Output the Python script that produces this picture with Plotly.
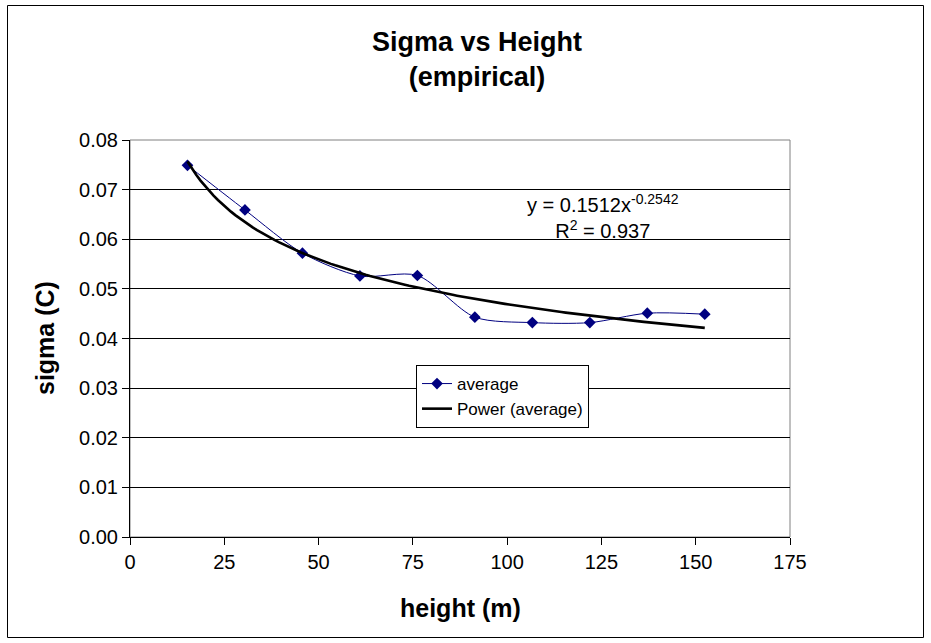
import numpy as np
import plotly.graph_objects as go

# ---- data ----
height_m = [15.24, 30.48, 45.72, 60.96, 76.2, 91.44, 106.68, 121.92, 137.16, 152.4]
sigma_avg = [0.0749, 0.0659, 0.0572, 0.0526, 0.0527, 0.0443, 0.0432, 0.0432, 0.0451, 0.0449]
trend_a = 0.1512
trend_b = -0.2542
r_squared = 0.937
x_ticks = [0, 25, 50, 75, 100, 125, 150, 175]
y_ticks = [0.0, 0.01, 0.02, 0.03, 0.04, 0.05, 0.06, 0.07, 0.08]

# power trendline (Excel "Power (average)") from the displayed coefficients
trend_x = np.linspace(height_m[0], height_m[-1], 120)
trend_y = trend_a * trend_x ** trend_b

FONT = "Arial, 'Liberation Sans', Helvetica, sans-serif"

fig = go.Figure()
fig.add_trace(go.Scatter(
    x=height_m, y=sigma_avg, name="average", mode="lines+markers",
    line=dict(color="#000080", width=1, shape="spline", smoothing=0.8),
    marker=dict(symbol="diamond", size=9, color="#000080"),
))
fig.add_trace(go.Scatter(
    x=trend_x, y=trend_y, name="Power (average)", mode="lines",
    line=dict(color="#000000", width=2.6),
))

W, H = 931, 643
L, R, T, B = 130, 790, 140, 537

def px_x(p):
    return (p - L) / (R - L)

def px_y(p):
    return (B - p) / (B - T)

fig.update_layout(
    width=W, height=H,
    margin=dict(l=L, r=W - R, t=T, b=H - B, pad=0),
    paper_bgcolor="white", plot_bgcolor="white",
    font=dict(family=FONT, color="black", size=20),
    showlegend=True,
    legend=dict(
        x=px_x(416), y=px_y(365), xanchor="left", yanchor="top",
        bgcolor="white", bordercolor="black", borderwidth=1,
        font=dict(size=17, family=FONT, color="black"),
        tracegroupgap=0, itemwidth=30,
    ),
    xaxis=dict(
        range=[0, 175], tickvals=x_ticks, ticktext=[str(v) for v in x_ticks],
        showgrid=False, zeroline=False,
        showline=True, linecolor="black", linewidth=1,
        ticks="outside", ticklen=7, tickcolor="black", tickwidth=1,
        tickfont=dict(size=20, family=FONT, color="black"),
    ),
    yaxis=dict(
        range=[0, 0.08], tickvals=y_ticks, tickformat=".2f",
        showgrid=True, gridcolor="black", gridwidth=1, zeroline=False,
        showline=True, linecolor="black", linewidth=1,
        ticks="outside", ticklen=7, tickcolor="black", tickwidth=1,
        tickfont=dict(size=20, family=FONT, color="black"),
    ),
    shapes=[
        # plot area border (gray)
        dict(type="rect", xref="paper", yref="paper", x0=0, x1=1, y0=0, y1=1,
             line=dict(color="#808080", width=1), layer="below"),
        # chart area border
        dict(type="rect", xref="paper", yref="paper",
             x0=px_x(7.5), x1=px_x(923.5), y0=px_y(637.5), y1=px_y(5.5),
             line=dict(color="black", width=1), layer="below"),
    ],
    annotations=[
        dict(text="<b>Sigma vs Height<br>(empirical)</b>", xref="paper", yref="paper",
             x=px_x(477), y=px_y(59.5), xanchor="center", yanchor="middle",
             showarrow=False, font=dict(size=27, family=FONT, color="black")),
        dict(text="<b>height (m)</b>", xref="paper", yref="paper",
             x=px_x(460), y=px_y(608), xanchor="center", yanchor="middle",
             showarrow=False, font=dict(size=25, family=FONT, color="black")),
        dict(text="<b>sigma (C)</b>", xref="paper", yref="paper",
             x=px_x(45), y=px_y(338), xanchor="center", yanchor="middle",
             textangle=-90, showarrow=False,
             font=dict(size=25, family=FONT, color="black")),
        dict(text=f"y = {trend_a}x<sup>{trend_b}</sup><br>R<sup>2</sup> = {r_squared}",
             xref="paper", yref="paper",
             x=px_x(603), y=px_y(216), xanchor="center", yanchor="middle",
             showarrow=False, align="center",
             font=dict(size=20, family=FONT, color="black")),
    ],
)

fig.write_html("out.html")
